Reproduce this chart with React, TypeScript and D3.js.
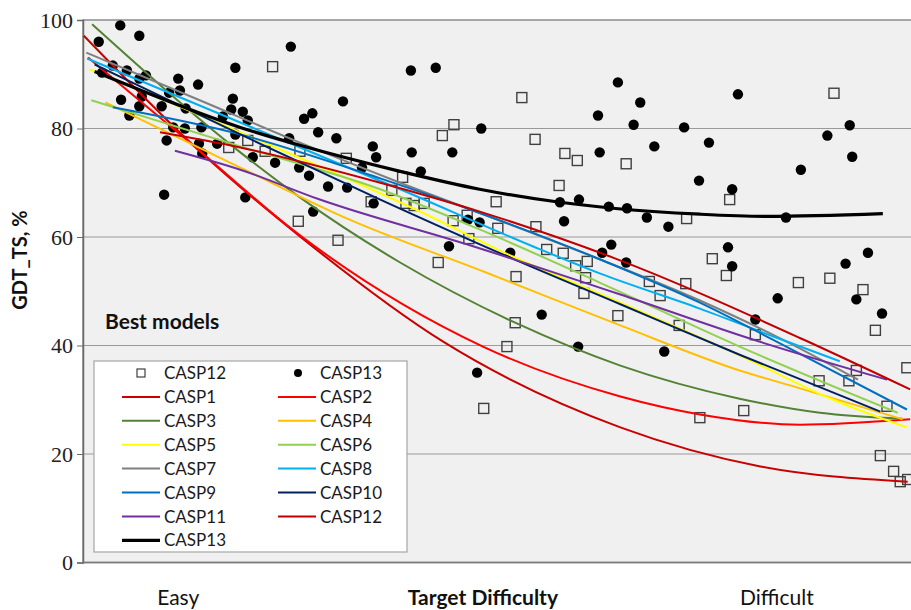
import { useEffect, useRef } from 'react';
import * as d3 from 'd3';

type Pt = [number, number];

// difficulty index (0 = easiest, 100 = hardest), GDT_TS %
const casp12Scores: Pt[] = [
  [22.9, 91.4], [26.0, 62.9], [17.6, 76.5], [19.9, 77.8], [22.0, 75.8], [26.2, 75.8],
  [53.0, 85.7], [44.8, 80.7], [43.4, 78.7], [54.6, 78.0], [58.2, 75.4], [59.7, 74.1],
  [57.5, 69.5], [49.9, 66.5], [38.6, 71.0], [31.8, 74.5], [37.3, 68.6], [39.0, 66.2],
  [40.0, 65.8], [41.2, 66.2], [34.8, 66.5], [44.7, 63.0], [46.4, 64.0], [50.1, 61.6],
  [54.7, 61.9], [46.6, 59.7], [30.8, 59.4], [56.0, 57.7], [90.7, 86.5], [65.6, 73.5],
  [78.1, 66.9], [72.9, 63.4], [42.9, 55.3], [52.3, 52.7], [52.2, 44.2], [51.2, 39.8],
  [48.4, 28.4], [58.0, 57.0], [59.5, 54.7], [60.9, 55.5], [60.7, 52.5], [60.5, 49.6],
  [64.6, 45.5], [76.0, 56.0], [77.7, 52.9], [72.8, 51.4], [68.4, 51.8], [69.7, 49.2],
  [72.0, 43.7], [81.2, 42.0], [86.4, 51.6], [90.2, 52.4], [94.2, 50.3], [95.7, 42.8],
  [88.9, 33.5], [92.5, 33.5], [93.4, 35.4], [99.5, 35.9], [97.1, 28.8], [79.8, 28.0],
  [74.5, 26.7], [96.3, 19.7], [97.9, 16.8], [98.7, 14.9], [99.6, 15.3],
];

const casp13Scores: Pt[] = [
  [1.9, 96.0], [4.5, 99.0], [6.8, 97.1], [2.3, 90.3], [3.6, 91.6], [5.3, 90.7],
  [4.6, 85.3], [5.6, 82.4], [6.8, 89.2], [7.1, 85.9], [6.8, 84.1], [7.6, 89.8],
  [9.5, 84.1], [10.4, 86.6], [11.5, 89.2], [11.7, 87.0], [12.4, 83.7], [10.9, 80.2],
  [10.1, 77.8], [9.8, 67.8], [12.3, 80.0], [13.9, 88.1], [14.3, 80.2], [14.0, 77.2],
  [14.4, 75.4], [16.2, 77.2], [16.9, 82.2], [17.9, 83.5], [18.1, 85.5], [18.4, 91.2],
  [19.3, 83.1], [19.9, 81.5], [18.4, 78.9], [20.5, 74.7], [19.6, 67.3], [23.2, 73.7],
  [24.9, 78.2], [25.1, 95.1], [26.7, 81.8], [27.7, 82.8], [26.1, 72.8], [27.3, 71.3],
  [27.8, 64.7], [28.4, 79.3], [31.4, 85.0], [30.6, 78.2], [35.0, 76.7], [35.4, 74.7],
  [33.7, 72.8], [29.6, 69.3], [31.9, 69.1], [35.1, 66.2], [39.6, 90.7], [42.6, 91.2],
  [39.7, 75.6], [40.8, 72.1], [44.6, 75.6], [48.1, 80.0], [44.2, 58.3], [46.5, 63.2],
  [47.9, 62.7], [57.6, 66.4], [59.9, 66.9], [63.5, 65.6], [62.2, 82.4], [62.4, 75.6],
  [64.6, 88.5], [58.1, 62.9], [63.8, 58.6], [67.3, 84.8], [66.5, 80.7], [69.0, 76.7],
  [72.6, 80.2], [75.6, 77.4], [74.4, 70.4], [78.4, 68.8], [79.1, 86.3], [65.7, 65.3],
  [68.1, 63.6], [70.7, 61.9], [84.9, 63.6], [86.7, 72.4], [89.9, 78.7], [92.6, 80.6],
  [92.9, 74.8], [77.9, 58.1], [51.6, 57.1], [55.4, 45.7], [59.8, 39.8], [47.6, 35.0],
  [62.7, 57.1], [65.6, 55.3], [78.4, 54.6], [81.2, 44.8], [70.2, 38.9], [83.9, 48.7],
  [92.1, 55.1], [93.4, 48.5], [94.8, 57.1], [96.5, 45.9],
];

// trend curves
const trendCASP1: Pt[] = [[0.1, 97.1], [14.1, 75.8], [26.2, 60.1], [43.5, 40.7], [64.9, 24.9], [81.8, 17.7], [99.6, 14.9]];
const trendCASP2: Pt[] = [[0.6, 93.1], [12.9, 77.4], [26.2, 60.3], [48.3, 39.8], [64.9, 30.6], [74.5, 27.3], [86.6, 25.4], [99.9, 26.4]];
const trendCASP3: Pt[] = [[1.1, 99.2], [19.0, 75.6], [26.2, 67.3], [38.3, 55.3], [52.2, 44.2], [64.9, 36.3], [79.3, 30.2], [89.0, 27.6], [99.0, 26.5]];
const trendCASP4: Pt[] = [[2.7, 84.8], [19.0, 72.8], [32.2, 63.2], [48.6, 53.5], [64.9, 43.7], [79.3, 35.4], [86.6, 32.1], [99.0, 26.4]];
const trendCASP5: Pt[] = [[0.8, 90.9], [19.0, 79.3], [40.7, 64.7], [51.9, 56.4], [64.9, 47.9], [79.3, 38.2], [90.6, 30.0], [99.5, 24.9]];
const trendCASP6: Pt[] = [[1.0, 85.2], [19.0, 76.7], [35.9, 68.8], [47.9, 61.4], [62.4, 51.6], [79.3, 39.8], [98.4, 27.6]];
const trendCASP7: Pt[] = [[0.4, 94.0], [14.1, 85.2], [26.2, 77.4], [38.3, 70.0], [50.4, 63.0], [62.4, 55.9], [74.5, 48.3], [84.5, 41.1], [93.6, 33.7]];
const trendCASP8: Pt[] = [[0.5, 92.9], [19.0, 81.1], [38.3, 68.8], [54.3, 58.3], [62.4, 53.3], [74.5, 46.8], [83.3, 41.7], [91.4, 37.1]];
const trendCASP9: Pt[] = [[3.6, 83.9], [19.0, 78.9], [35.9, 70.8], [48.3, 64.2], [62.4, 55.9], [74.5, 47.9], [83.3, 41.1], [99.5, 28.2]];
const trendCASP10: Pt[] = [[1.4, 91.8], [19.0, 78.9], [35.9, 66.9], [51.6, 56.2], [64.9, 47.6], [79.3, 38.3], [96.3, 27.8]];
const trendCASP11: Pt[] = [[11.1, 75.9], [19.0, 72.4], [28.6, 66.9], [47.1, 58.3], [64.9, 49.4], [80.9, 41.1], [97.1, 33.7]];
const trendCASP12: Pt[] = [[9.3, 79.3], [19.0, 76.5], [35.9, 70.0], [48.3, 64.5], [64.0, 56.2], [87.0, 41.1], [99.9, 31.9]];
const trendCASP13: Pt[] = [[1.4, 90.5], [19.0, 80.2], [26.2, 76.9], [38.3, 72.1], [47.9, 68.8], [57.6, 66.4], [64.0, 65.3], [74.5, 64.2], [82.6, 63.8], [96.6, 64.3]];

const trendNames = ['CASP1', 'CASP2', 'CASP3', 'CASP4', 'CASP5', 'CASP6', 'CASP7', 'CASP8', 'CASP9', 'CASP10', 'CASP11', 'CASP12', 'CASP13'];
const trendData = [trendCASP1, trendCASP2, trendCASP3, trendCASP4, trendCASP5, trendCASP6, trendCASP7,
  trendCASP8, trendCASP9, trendCASP10, trendCASP11, trendCASP12, trendCASP13];
const trendColors = ['#c80000', '#ff0000', '#548235', '#ffc000', '#ffff00', '#92d050', '#808080',
  '#00b0f0', '#0070c0', '#002060', '#7030a0', '#c00000', '#000000'];

const yTicks = [0, 20, 40, 60, 80, 100];
const xLabels = ['Easy', 'Target Difficulty', 'Difficult'];
const xLabelAt = [11.5, 48.3, 83.8];

const SANS = 'Lato, "Open Sans", sans-serif';

export default function App() {
  const svgRef = useRef<SVGSVGElement>(null);

  useEffect(() => {
    if (!svgRef.current) return;
    const width = 911;
    const height = 610;
    const margin = { top: 20, right: 0, bottom: 47.5, left: 83 };

    const svg = d3.select(svgRef.current);
    svg.selectAll('*').remove();

    const x = d3.scaleLinear().domain([0, 100]).range([margin.left, width - margin.right]);
    const y = d3.scaleLinear().domain([0, 100]).range([height - margin.bottom, margin.top]);

    // plot area
    svg.append('rect')
      .attr('x', margin.left)
      .attr('y', margin.top)
      .attr('width', width - margin.left + 5)
      .attr('height', y(0) - margin.top)
      .attr('fill', '#f0f0f0')
      .attr('stroke', '#8c8c8c')
      .attr('stroke-width', 1.5);

    // gridlines
    svg.append('g')
      .selectAll('line')
      .data(yTicks.filter((t) => t > 0 && t < 100))
      .join('line')
      .attr('x1', margin.left)
      .attr('x2', width)
      .attr('y1', (d) => y(d))
      .attr('y2', (d) => y(d))
      .attr('stroke', '#9a9a9a')
      .attr('stroke-width', 1);

    // y axis
    const yAxis = svg.append('g')
      .attr('transform', `translate(${margin.left},0)`)
      .attr('font-family', '"Liberation Serif", "DejaVu Serif", serif')
      .call(d3.axisLeft(y).tickValues(yTicks).tickSize(6).tickPadding(4));
    yAxis.attr('font-family', '"Liberation Serif", "DejaVu Serif", serif').attr('font-size', 22);
    yAxis.select('.domain').attr('stroke', '#6a6a6a').attr('stroke-width', 1.5);
    yAxis.selectAll('.tick line').attr('stroke', '#6a6a6a');
    yAxis.selectAll('.tick text')
      .attr('font-family', '"Liberation Serif", "DejaVu Serif", serif')
      .attr('font-size', 22)
      .attr('fill', '#222');

    // x axis line
    svg.append('line')
      .attr('x1', margin.left)
      .attr('x2', width)
      .attr('y1', y(0))
      .attr('y2', y(0))
      .attr('stroke', '#7a7a7a')
      .attr('stroke-width', 1.5);

    // scatter: CASP12 squares
    const sq = 10;
    svg.append('g')
      .selectAll('rect')
      .data(casp12Scores)
      .join('rect')
      .attr('x', (d) => x(d[0]) - sq / 2)
      .attr('y', (d) => y(d[1]) - sq / 2)
      .attr('width', sq)
      .attr('height', sq)
      .attr('fill', 'none')
      .attr('stroke', '#404040')
      .attr('stroke-width', 1.4);

    // scatter: CASP13 dots
    svg.append('g')
      .selectAll('circle')
      .data(casp13Scores)
      .join('circle')
      .attr('cx', (d) => x(d[0]))
      .attr('cy', (d) => y(d[1]))
      .attr('r', 5.2)
      .attr('fill', '#000');

    // trend curves
    const line = d3.line<Pt>()
      .x((d) => x(d[0]))
      .y((d) => y(d[1]))
      .curve(d3.curveMonotoneX);

    svg.append('g')
      .selectAll('path')
      .data(trendData)
      .join('path')
      .attr('d', (d) => line(d))
      .attr('fill', 'none')
      .attr('stroke', (_, i) => trendColors[i])
      .attr('stroke-width', (_, i) => (i === 12 ? 3.2 : 2));

    // axis titles
    svg.append('text')
      .attr('transform', `translate(27,${260}) rotate(-90)`)
      .attr('text-anchor', 'middle')
      .attr('font-family', SANS)
      .attr('font-weight', 'bold')
      .attr('font-size', 20)
      .attr('fill', '#111')
      .text('GDT_TS, %');

    svg.append('g')
      .selectAll('text')
      .data(xLabels)
      .join('text')
      .attr('x', (_, i) => x(xLabelAt[i]))
      .attr('y', 605)
      .attr('text-anchor', 'middle')
      .attr('font-family', SANS)
      .attr('font-size', 21)
      .attr('font-weight', (_, i) => (i === 1 ? 'bold' : 'normal'))
      .attr('fill', '#111')
      .text((d) => d);

    svg.append('text')
      .attr('x', 105)
      .attr('y', 329)
      .attr('font-family', SANS)
      .attr('font-weight', 'bold')
      .attr('font-size', 21)
      .attr('fill', '#111')
      .text('Best models');

    // legend
    const lg = svg.append('g').attr('transform', 'translate(94,361)');
    lg.append('rect')
      .attr('width', 313)
      .attr('height', 191)
      .attr('fill', '#fff')
      .attr('stroke', '#a6a6a6')
      .attr('stroke-width', 1.2);

    const rowY = (r: number) => 12 + r * 23.9;
    const colX = [28, 184];

    const entries: { name: string; kind: 'square' | 'dot' | 'line'; color: string; width: number }[] = [
      { name: 'CASP12', kind: 'square', color: '#404040', width: 1 },
      { name: 'CASP13', kind: 'dot', color: '#000', width: 1 },
      ...trendNames.map((n, i) => ({ name: n, kind: 'line' as const, color: trendColors[i], width: i === 12 ? 3.2 : 2 })),
    ];

    entries.forEach((e, i) => {
      const r = Math.floor(i / 2);
      const cx = colX[i % 2];
      const cy = rowY(r);
      const item = lg.append('g');
      if (e.kind === 'square') {
        item.append('rect')
          .attr('x', cx + 15)
          .attr('y', cy - 4)
          .attr('width', 8)
          .attr('height', 8)
          .attr('fill', 'none')
          .attr('stroke', e.color)
          .attr('stroke-width', 1.2);
      } else if (e.kind === 'dot') {
        item.append('circle')
          .attr('cx', cx + 20)
          .attr('cy', cy)
          .attr('r', 4)
          .attr('fill', e.color);
      } else {
        item.append('line')
          .attr('x1', cx)
          .attr('x2', cx + 38)
          .attr('y1', cy)
          .attr('y2', cy)
          .attr('stroke', e.color)
          .attr('stroke-width', e.width);
      }
      item.append('text')
        .attr('x', cx + 42)
        .attr('y', cy)
        .attr('dy', '0.36em')
        .attr('font-family', SANS)
        .attr('font-size', 17)
        .attr('fill', '#1a1a1a')
        .text(e.name);
    });
  }, []);

  return (
    <svg
      ref={svgRef}
      width={911}
      height={610}
      style={{ position: 'absolute', left: 0, top: 0, background: '#fff' }}
    />
  );
}
